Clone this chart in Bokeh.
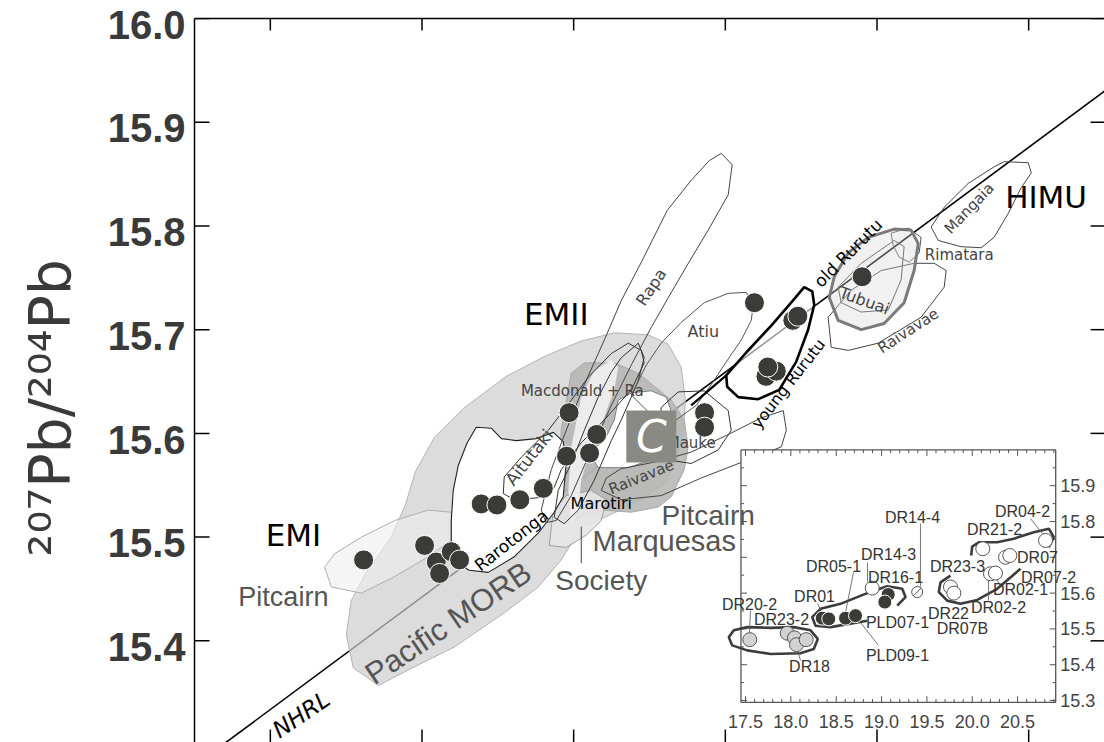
import math
from bokeh.plotting import figure
from bokeh.models import Range1d, LinearAxis, FixedTicker, PrintfTickFormatter, Slope
from bokeh.core.properties import value
from bokeh.embed import file_html
from bokeh.resources import INLINE

# ---------------- main diagram data (x = 206Pb/204Pb, y = 207Pb/204Pb) ----------------
X_RANGE = (16.5, 22.5)
Y_RANGE = (15.302, 16.0)
X_TICKS = [17, 18, 19, 20, 21, 22]
Y_TICKS = [15.4, 15.5, 15.6, 15.7, 15.8, 15.9, 16.0]
Y_TITLE = "\u00b2\u2070\u2077Pb/\u00b2\u2070\u2074Pb"
NHRL_GRADIENT = 0.1084
NHRL_INTERCEPT = 13.491

morb_x = [17.712, 17.547, 17.501, 17.534, 17.633, 17.797, 17.890, 17.956, 18.081, 18.272, 18.556, 18.819,
          19.050, 19.268, 19.491, 19.623, 19.709, 19.736, 19.722, 19.676, 19.591, 19.446, 19.248, 19.050,
          18.918, 18.767, 18.543, 18.213, 17.910]
morb_y = [15.357, 15.374, 15.406, 15.439, 15.466, 15.500, 15.531, 15.563, 15.596, 15.624, 15.655, 15.675,
          15.689, 15.697, 15.695, 15.686, 15.664, 15.632, 15.601, 15.572, 15.551, 15.536, 15.522, 15.509,
          15.478, 15.452, 15.427, 15.394, 15.372]

pitcairn_x = [17.402, 17.600, 17.819, 18.040, 18.193, 18.193, 18.040, 17.819, 17.600, 17.424, 17.358]
pitcairn_y = [15.452, 15.446, 15.462, 15.481, 15.497, 15.524, 15.526, 15.516, 15.500, 15.484, 15.471]

marq_x = [18.918, 18.984, 19.070, 19.268, 19.426, 19.644, 19.729, 19.755, 19.729, 19.644, 19.558, 19.380,
          19.202, 19.050, 18.938, 18.898, 18.905]
marq_y = [15.603, 15.658, 15.668, 15.668, 15.658, 15.632, 15.613, 15.587, 15.565, 15.539, 15.529, 15.524,
          15.526, 15.519, 15.513, 15.519, 15.555]

society_x = [18.839, 18.866, 18.951, 19.116, 19.215, 19.182, 19.083, 18.951]
society_y = [15.492, 15.526, 15.540, 15.545, 15.536, 15.516, 15.502, 15.490]

band_x = [18.984, 18.965, 18.984, 19.050, 19.136, 19.248, 19.294, 19.268, 19.202, 19.116, 19.050, 19.030]
band_y = [15.513, 15.545, 15.587, 15.635, 15.661, 15.671, 15.664, 15.642, 15.616, 15.587, 15.555, 15.526]

cwhite_x = [19.202, 19.268, 19.294, 19.380, 19.511, 19.610, 19.656, 19.643, 19.558, 19.360, 19.162, 19.103]
cwhite_y = [15.593, 15.613, 15.632, 15.639, 15.641, 15.635, 15.616, 15.593, 15.577, 15.567, 15.567, 15.582]

raro_x = [18.193, 18.193, 18.206, 18.239, 18.298, 18.358, 18.457, 18.523, 18.622, 18.754, 18.866, 18.931,
          18.951, 18.931, 18.872, 18.767, 18.608, 18.437, 18.312]
raro_y = [15.478, 15.516, 15.545, 15.569, 15.591, 15.606, 15.605, 15.595, 15.593, 15.595, 15.601, 15.592,
          15.572, 15.539, 15.524, 15.504, 15.481, 15.466, 15.468]

aitu_x = [18.536, 18.542, 18.655, 18.833, 18.984, 19.096, 19.248, 19.360, 19.446, 19.465, 19.380, 19.202,
          19.050, 18.918, 18.872, 18.767, 18.608]
aitu_y = [15.542, 15.558, 15.577, 15.603, 15.632, 15.654, 15.677, 15.687, 15.680, 15.668, 15.642, 15.613,
          15.591, 15.565, 15.548, 15.538, 15.536]

macd_x = [18.938, 18.872, 18.898, 18.984, 19.070, 19.162, 19.248, 19.314, 19.426, 19.465, 19.426, 19.380,
          19.314, 19.248, 19.136, 19.030]
macd_y = [15.513, 15.519, 15.545, 15.571, 15.603, 15.635, 15.659, 15.673, 15.687, 15.673, 15.651, 15.635,
          15.613, 15.593, 15.555, 15.526]

rapa_x = [19.973, 20.045, 20.019, 19.887, 19.756, 19.624, 19.511, 19.380, 19.248, 19.116, 18.984, 18.885,
          18.819, 18.786, 18.852, 18.951, 19.070, 19.202, 19.314, 19.446, 19.617, 19.775, 19.894]
rapa_y = [15.870, 15.859, 15.830, 15.796, 15.764, 15.731, 15.702, 15.666, 15.627, 15.584, 15.540, 15.516,
          15.514, 15.526, 15.565, 15.603, 15.647, 15.690, 15.728, 15.765, 15.815, 15.844, 15.863]

atiu_x = [19.380, 19.479, 19.577, 19.709, 19.861, 20.019, 20.138, 20.184, 20.171, 20.105, 20.006, 19.907,
          19.808, 19.676, 19.545]
atiu_y = [15.637, 15.666, 15.687, 15.707, 15.726, 15.735, 15.736, 15.724, 15.709, 15.690, 15.669, 15.647,
          15.627, 15.613, 15.613]

mauke_x = [19.577, 19.689, 19.861, 20.019, 20.039, 19.953, 19.775, 19.644, 19.564]
mauke_y = [15.625, 15.640, 15.641, 15.622, 15.603, 15.584, 15.571, 15.574, 15.603]

raiv1_x = [19.182, 19.215, 19.314, 19.558, 19.775, 20.006, 20.237, 20.382, 20.402, 20.369, 20.105, 19.841,
           19.577, 19.314]
raiv1_y = [15.545, 15.557, 15.566, 15.573, 15.582, 15.598, 15.615, 15.622, 15.603, 15.587, 15.572, 15.557,
           15.540, 15.536]

young_x = [20.006, 20.138, 20.303, 20.434, 20.520, 20.573, 20.586, 20.546, 20.467, 20.355, 20.217, 20.085, 20.012]
young_y = [15.656, 15.678, 15.704, 15.726, 15.741, 15.737, 15.724, 15.700, 15.669, 15.642, 15.633, 15.635, 15.645]
young_tail_x = [20.006, 19.775]
young_tail_y = [15.656, 15.627]

old_x = [20.718, 20.810, 20.942, 21.113, 21.225, 21.272, 21.245, 21.179, 21.047, 20.896, 20.744, 20.685]
old_y = [15.751, 15.774, 15.789, 15.797, 15.796, 15.783, 15.757, 15.726, 15.706, 15.700, 15.709, 15.731]

tubuai_x = [20.744, 20.896, 21.113, 21.179, 21.159, 21.074, 20.896, 20.764]
tubuai_y = [15.741, 15.764, 15.786, 15.780, 15.748, 15.719, 15.717, 15.726]

rimatara_x = [21.093, 21.205, 21.291, 21.278, 21.212, 21.146, 21.107]
rimatara_y = [15.793, 15.798, 15.789, 15.774, 15.765, 15.770, 15.781]

raiv2_x = [20.678, 20.698, 20.810, 21.008, 21.291, 21.443, 21.456, 21.377, 21.245, 21.028, 20.830]
raiv2_y = [15.712, 15.683, 15.680, 15.687, 15.712, 15.741, 15.757, 15.764, 15.764, 15.757, 15.738]

mangaia_x = [21.357, 21.443, 21.601, 21.772, 21.839, 21.997, 22.017, 21.951, 21.865, 21.772, 21.687, 21.555, 21.404]
mangaia_y = [15.799, 15.818, 15.841, 15.857, 15.862, 15.861, 15.851, 15.837, 15.812, 15.789, 15.779, 15.780, 15.786]

society_leader_x = [19.050, 19.050]
society_leader_y = [15.510, 15.475]

sample_x = [17.615, 18.017, 18.094, 18.193, 18.248, 18.116, 18.390, 18.494, 18.645, 18.800, 18.970, 18.953,
            19.152, 19.105, 19.863, 19.863, 20.192, 20.445, 20.478, 20.268, 20.336, 20.280, 20.902]
sample_y = [15.478, 15.492, 15.476, 15.486, 15.478, 15.465, 15.532, 15.531, 15.536, 15.547, 15.620, 15.578,
            15.599, 15.581, 15.620, 15.606, 15.726, 15.709, 15.713, 15.655, 15.660, 15.664, 15.751]

c_box_x, c_box_y = 19.512, 15.597

# labels: (text, x, y, angle_deg, font px)
gray_labels = [("Pitcairn", 17.086, 15.442, 0, 27), ("Pacific MORB", 18.173, 15.417, 34, 31),
               ("Society", 19.182, 15.458, 0, 28), ("Marquesas", 19.597, 15.496, 0, 29)]
pitcairn2 = ("Pitcairn", 19.887, 15.521, 0, 28)
big_labels = [("EMI", 17.152, 15.502, 0, 31), ("EMII", 18.885, 15.715, 0, 31), ("HIMU", 22.115, 15.828, 0, 31)]
small_black_labels = [("Rarotonga", 18.589, 15.497, 38, 17), ("Marotiri", 19.182, 15.532, 0, 16),
                      ("young Rurutu", 20.415, 15.648, 52, 16), ("old Rurutu", 20.810, 15.774, 45, 17)]
small_gray_labels = [("Macdonald + Ra", 19.057, 15.641, 0, 15), ("Aitutaki", 18.707, 15.577, 52, 17),
                     ("Rapa", 19.511, 15.741, 56, 16), ("Atiu", 19.855, 15.698, 0, 16),
                     ("Raivavae", 19.446, 15.558, 22, 15), ("Mauke", 19.775, 15.591, 0, 15),
                     ("Tubuai", 20.916, 15.728, -20, 16), ("Rimatara", 21.542, 15.772, 0, 15),
                     ("Raivavae", 21.206, 15.699, 33, 15), ("Mangaia", 21.608, 15.817, 46, 15)]
nhrl_label = ("NHRL", 17.204, 15.329, 34, 23)

# ---------------- inset data ----------------
IX0, IX1, IY0, IY1 = 17.45, 20.92, 15.295, 16.0
INSET_X_TICKS = [17.5, 18.0, 18.5, 19.0, 19.5, 20.0, 20.5]
INSET_Y_TICKS = [15.3, 15.4, 15.5, 15.6, 15.7, 15.8, 15.9]
INSET_Y_LABELED = [15.3, 15.4, 15.5, 15.6, 15.8, 15.9]

inset_gray_x = [17.547, 17.960, 18.040, 18.062, 18.169]
inset_gray_y = [15.470, 15.488, 15.475, 15.456, 15.470]
inset_dark_x = [18.346, 18.418, 18.603, 18.713, 19.073, 19.036]
inset_dark_y = [15.530, 15.528, 15.530, 15.537, 15.596, 15.575]
inset_white_x = [18.897, 20.116, 20.808, 20.367, 20.414, 19.760, 19.797, 20.201, 20.256]
inset_white_y = [15.614, 15.724, 15.747, 15.700, 15.705, 15.617, 15.600, 15.654, 15.656]
inset_hatch_x = [19.393]
inset_hatch_y = [15.603]

curve1_x = [17.316, 17.371, 17.519, 17.776, 18.033, 18.217, 18.297, 18.253, 18.106, 17.776, 17.519, 17.353]
curve1_y = [15.477, 15.496, 15.505, 15.503, 15.505, 15.496, 15.472, 15.444, 15.432, 15.430, 15.440, 15.454]
curve2_x = [18.842, 18.437, 18.272, 18.235, 18.327, 18.547, 18.842, 19.062, 19.228, 19.264, 19.173]
curve2_y = [15.523, 15.505, 15.509, 15.533, 15.556, 15.570, 15.600, 15.619, 15.612, 15.589, 15.565]
curve3_x = [19.760, 19.650, 19.631, 19.724, 19.870, 20.055, 20.275, 20.532]
curve3_y = [15.649, 15.630, 15.603, 15.579, 15.570, 15.581, 15.612, 15.668]
curve4_x = [19.988, 19.999, 20.072, 20.275, 20.458, 20.679, 20.844, 20.899, 20.844]
curve4_y = [15.705, 15.730, 15.742, 15.742, 15.752, 15.770, 15.780, 15.756, 15.728]

inset_labels = ["DR20-2", "DR23-2", "DR18", "DR01", "DR05-1", "DR14-3", "DR16-1", "DR14-4", "PLD07-1",
                "PLD09-1", "DR23-3", "DR22", "DR07B", "DR02-2", "DR02-1", "DR07-2", "DR07", "DR21-2", "DR04-2"]
inset_label_x = [17.544, 17.897, 18.206, 18.261, 18.470, 19.077, 19.154, 19.341, 19.176, 19.176, 19.837,
                 19.738, 19.892, 20.289, 20.532, 20.841, 20.719, 20.245, 20.554]
inset_label_y = [15.568, 15.526, 15.395, 15.591, 15.674, 15.708, 15.644, 15.811, 15.518, 15.426, 15.674,
                 15.543, 15.501, 15.560, 15.610, 15.644, 15.699, 15.778, 15.828]
leader_x0 = [17.555, 17.908, 18.106, 18.294, 18.691, 18.845, 19.429, 18.966, 20.179, 20.311, 20.642]
leader_y0 = [15.551, 15.509, 15.412, 15.571, 15.658, 15.685, 15.794, 15.454, 15.579, 15.621, 15.808]
leader_x1 = [17.544, 17.974, 18.073, 18.349, 18.603, 18.845, 19.429, 18.768, 20.179, 20.256, 20.775]
leader_y1 = [15.490, 15.490, 15.440, 15.543, 15.546, 15.632, 15.618, 15.518, 15.641, 15.644, 15.766]

# ---------------- figure ----------------
p = figure(width=1104, height=742, x_range=Range1d(*X_RANGE), y_range=Range1d(*Y_RANGE),
           output_backend="svg", toolbar_location=None, x_axis_location=None, y_axis_location=None,
           min_border_left=194, min_border_right=0, min_border_top=18, min_border_bottom=0,
           background_fill_color="white", border_fill_color="white", outline_line_color=None)
p.grid.visible = False
p.extra_x_ranges = {"ix": Range1d(11.425, 21.458)}
p.extra_y_ranges = {"iy": Range1d(15.1827, 17.205)}

TICK_COLOR = "#3a3a3a"
LABEL_DROP = 0.006   # the scanned tick labels sit a few pixels below their ticks
left = LinearAxis(ticker=FixedTicker(ticks=[round(v - LABEL_DROP, 3) for v in Y_TICKS]),
                  formatter=PrintfTickFormatter(format="%.1f"),
                  major_tick_in=0, major_tick_out=0, minor_tick_in=0, minor_tick_out=0,
                  major_label_standoff=9, major_label_text_font="Liberation Sans",
                  major_label_text_font_style="bold", major_label_text_font_size="40px",
                  major_label_text_color=TICK_COLOR, axis_line_width=1.5,
                  axis_label=Y_TITLE + "\u00a0\u00a0\u00a0", axis_label_standoff=22,
                  axis_label_text_font="DejaVu Sans", axis_label_text_font_size="57px",
                  axis_label_text_font_style="normal", axis_label_text_color=TICK_COLOR)
p.add_layout(left, "left")
top = LinearAxis(ticker=FixedTicker(ticks=[]), major_tick_in=0, major_tick_out=0, minor_tick_in=0,
                 minor_tick_out=0, major_label_standoff=0, axis_line_width=1.5)
p.add_layout(top, "above")

# tick marks on all four frame edges (pointing inward)
n = len(X_TICKS)
p.segment(x0=X_TICKS, y0=[Y_RANGE[1]] * n, x1=X_TICKS, y1=[Y_RANGE[1] - 0.0116] * n,
          line_color="black", line_width=1.5)
p.segment(x0=X_TICKS, y0=[Y_RANGE[0]] * n, x1=X_TICKS, y1=[Y_RANGE[0] + 0.0125] * n,
          line_color="black", line_width=1.5)
m = len(Y_TICKS)
p.segment(x0=[X_RANGE[1]] * m, y0=Y_TICKS, x1=[X_RANGE[1] - 0.092] * m, y1=Y_TICKS,
          line_color="black", line_width=1.5)
p.segment(x0=[X_RANGE[0]] * m, y0=Y_TICKS, x1=[X_RANGE[0] + 0.099] * m, y1=Y_TICKS,
          line_color="black", line_width=1.5)

p.add_layout(Slope(gradient=NHRL_GRADIENT, y_intercept=NHRL_INTERCEPT, line_color="black",
                   line_width=1.6, level="underlay"))

# filled regions
p.patch(morb_x, morb_y, fill_color="#cdcdcd", fill_alpha=0.7, line_color="#b4b4b4", line_width=1)
p.patch(pitcairn_x, pitcairn_y, fill_color="#eeeeee", fill_alpha=0.6, line_color="#b0b0b0", line_width=1)
p.patch(marq_x, marq_y, fill_color="#b4b4b2", fill_alpha=0.85, line_color="#a8a8a8", line_width=1)
p.patch(society_x, society_y, fill_color="#e6e6e6", fill_alpha=0.9, line_color="#a0a0a0", line_width=1)
p.patch(band_x, band_y, fill_color="#eeeeee", fill_alpha=0.95, line_color=None)
p.patch(cwhite_x, cwhite_y, fill_color="white", line_color="#666666", line_width=0.8)
p.patch(raro_x, raro_y, fill_color="white", line_color="#222222", line_width=1.1)

# outlines
for xs, ys, col, lw in [(aitu_x, aitu_y, "#333333", 1.0), (macd_x, macd_y, "#333333", 1.0),
                        (rapa_x, rapa_y, "#444444", 1.0), (atiu_x, atiu_y, "#555555", 1.0),
                        (mauke_x, mauke_y, "#333333", 1.0), (raiv1_x, raiv1_y, "#444444", 1.0),
                        (tubuai_x, tubuai_y, "#444444", 1.0), (rimatara_x, rimatara_y, "#555555", 1.0),
                        (raiv2_x, raiv2_y, "#444444", 1.0), (mangaia_x, mangaia_y, "#444444", 1.0)]:
    p.patch(xs, ys, fill_color=None, line_color=col, line_width=lw)
p.patch(old_x, old_y, fill_color="#d8d8d8", fill_alpha=0.35, line_color="#7a7a7a", line_width=3)
p.patch(young_x, young_y, fill_color="white", fill_alpha=0.6, line_color="black", line_width=2.6)
p.line(young_tail_x, young_tail_y, line_color="black", line_width=2.2)
p.line(society_leader_x, society_leader_y, line_color="#444444", line_width=1)

# samples
p.scatter(sample_x, sample_y, size=20, fill_color="#3b3b37", line_color="white", line_width=1)


def texts(items, font, color, style="normal"):
    for t, x, y, ang, fs in items:
        p.text(x=[x], y=[y], text=[t], angle=math.radians(ang), text_font=value(font),
               text_font_size=f"{fs}px", text_color=color, text_font_style=style,
               text_align="center", text_baseline="middle")


texts(gray_labels, "Liberation Sans", "#555555")
texts(big_labels, "DejaVu Sans", "black")
texts(small_black_labels, "DejaVu Sans", "black")
texts(small_gray_labels, "DejaVu Sans", "#444444")
texts([nhrl_label], "DejaVu Sans", "black", "italic")

# "C" box
p.rect(x=[c_box_x], y=[c_box_y], width=50, height=52, width_units="screen", height_units="screen",
       fill_color="#8a8a84", line_color=None)
p.text(x=[c_box_x], y=[c_box_y], text=["C"], text_font=value("DejaVu Sans"), text_font_size="44px",
       text_font_style="italic", text_color="white", text_align="center", text_baseline="middle")

# ---------------- inset ----------------
IR = dict(x_range_name="ix", y_range_name="iy")
p.quad(left=[IX0], right=[IX1], bottom=[IY0], top=[IY1], fill_color="white", line_color="#555555",
       line_width=1.3, **IR)
xmaj_len, xmin_len = 0.017, 0.009
ymaj_len, ymin_len = 0.066, 0.035
x_minor = [v / 10 for v in range(175, 210) if v % 5 != 0]
y_minor = [v / 100 for v in range(1530, 1600, 5) if v % 10 != 0]
for ticks, ln in [(INSET_X_TICKS, xmaj_len), (x_minor, xmin_len)]:
    k = len(ticks)
    p.segment(x0=ticks, y0=[IY0] * k, x1=ticks, y1=[IY0 + ln] * k, line_color="#555555", **IR)
    p.segment(x0=ticks, y0=[IY1] * k, x1=ticks, y1=[IY1 - ln] * k, line_color="#555555", **IR)
for ticks, ln in [(INSET_Y_TICKS, ymaj_len), (y_minor, ymin_len)]:
    k = len(ticks)
    p.segment(x0=[IX0] * k, y0=ticks, x1=[IX0 + ln] * k, y1=ticks, line_color="#555555", **IR)
    p.segment(x0=[IX1] * k, y0=ticks, x1=[IX1 - ln] * k, y1=ticks, line_color="#555555", **IR)
p.text(x=INSET_X_TICKS, y=[IY0 - 0.055] * len(INSET_X_TICKS), text=[f"{v:.1f}" for v in INSET_X_TICKS],
       text_font=value("Liberation Sans"), text_font_size="18px", text_color="#444444",
       text_align="center", text_baseline="middle", **IR)
p.text(x=[IX1 + 0.05] * len(INSET_Y_LABELED), y=INSET_Y_LABELED, text=[f"{v:.1f}" for v in INSET_Y_LABELED],
       text_font=value("Liberation Sans"), text_font_size="18px", text_color="#444444",
       text_align="left", text_baseline="middle", **IR)

for cx, cy, closed in [(curve1_x, curve1_y, True), (curve2_x, curve2_y, False),
                       (curve3_x, curve3_y, False), (curve4_x, curve4_y, False)]:
    if closed:
        p.patch(cx, cy, fill_color=None, line_color="#3c3c3c", line_width=2.6, **IR)
    else:
        p.line(cx, cy, line_color="#3c3c3c", line_width=2.6, **IR)
p.segment(x0=leader_x0, y0=leader_y0, x1=leader_x1, y1=leader_y1, line_color="#555555", line_width=0.8, **IR)
p.scatter(inset_gray_x, inset_gray_y, size=14, fill_color="#d2d2d2", line_color="#555555", line_width=1, **IR)
p.scatter(inset_dark_x, inset_dark_y, size=14, fill_color="#3b3b37", line_color="white", line_width=1, **IR)
p.scatter(inset_white_x, inset_white_y, size=14, fill_color="white", line_color="#555555", line_width=1, **IR)
p.scatter(inset_hatch_x, inset_hatch_y, size=11, fill_color="white", line_color="#555555", line_width=1, **IR)
p.scatter(inset_hatch_x, inset_hatch_y, size=11, marker="dash", angle=math.pi / 4, line_color="#555555",
          line_width=1, **IR)
p.text(x=inset_label_x, y=inset_label_y, text=inset_labels, text_font=value("Liberation Sans"),
       text_font_size="16px", text_color="#333333", text_align="center", text_baseline="middle", **IR)

# label drawn over the inset edge
texts([pitcairn2], "Liberation Sans", "#555555")

open("out.html", "w").write(file_html(p, INLINE))
